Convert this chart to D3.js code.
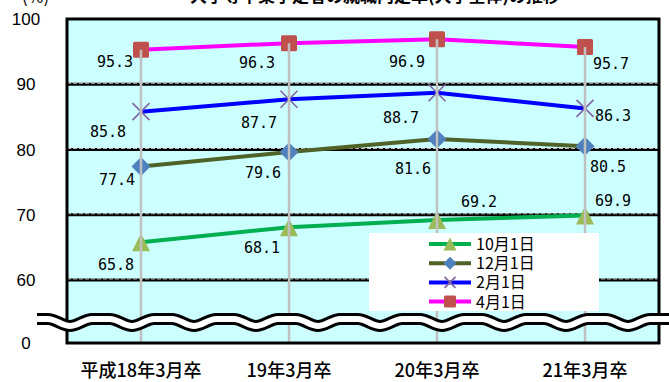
<!DOCTYPE html>
<html>
<head>
<meta charset="utf-8">
<script src="https://cdn.jsdelivr.net/npm/d3@7"></script>
<style>
  body { margin: 0; background: #fff; }
  svg { display: block; }
</style>
</head>
<body>
<svg id="chart" width="669" height="382"></svg>
<script>
// Data
const categories = ["平成18年3月卒", "19年3月卒", "20年3月卒", "21年3月卒"];
const seriesNames = ["10月1日", "12月1日", "2月1日", "4月1日"];
const octValues = [65.8, 68.1, 69.2, 69.9];
const decValues = [77.4, 79.6, 81.6, 80.5];
const febValues = [85.8, 87.7, 88.7, 86.3];
const aprValues = [95.3, 96.3, 96.9, 95.7];
const yTicks = [0, 60, 70, 80, 90, 100];

// label placement (dx, dy from point, anchor) - hand placed like the original
const labelPlacement = [
    [[-7, 28, "end"], [-9, 26, "end"], [24, -13, "start"], [10, -9, "start"]],
    [[-6, 19, "end"], [-8, 26, "end"], [-6, 35, "end"], [5, 26, "start"]],
    [[-15, 25, "end"], [-12, 29, "end"], [-18, 30, "end"], [10, 13, "start"]],
    [[-8, 17, "end"], [-14, 25, "end"], [-12, 28, "end"], [8, 22, "start"]]
];

const styles = [
    { line: "#00b050", marker: "#9bbb59", shape: "triangle" },
    { line: "#4f6228", marker: "#4f81bd", shape: "diamond" },
    { line: "#0000ff", marker: "#8064a2", shape: "x" },
    { line: "#ff00ff", marker: "#c0504d", shape: "square" }
];

const series = [octValues, decValues, febValues, aprValues].map((vals, i) => ({
    name: seriesNames[i],
    values: vals.map((v, j) => ({ cat: categories[j], value: v })),
    style: styles[i],
    labels: labelPlacement[i]
}));

const svg = d3.select("#chart");
const plot = { left: 67, right: 659, top: 19, bottom: 343 };

const x = d3.scaleBand().domain(categories).range([plot.left, plot.right]);
const cx = d => x(d) + x.bandwidth() / 2;
// broken axis: 0 at the bottom, then 60..100
const y = d3.scaleLinear().domain([0, 60, 100]).range([plot.bottom, 280, plot.top]);

// title + unit (cut off at top edge)
svg.append("text")
    .attr("x", 22).attr("y", 3)
    .style("font-family", "Noto Sans CJK JP").style("font-size", "17px")
    .text("(%)");
svg.append("text")
    .attr("x", 190).attr("y", 2)
    .style("font-family", "Noto Sans CJK JP").style("font-size", "17px").style("font-weight", "bold")
    .text("大学等卒業予定者の就職内定率(大学全体)の推移");

// plot background
svg.append("rect")
    .attr("x", plot.left).attr("y", plot.top)
    .attr("width", plot.right - plot.left).attr("height", plot.bottom - plot.top)
    .attr("fill", "#ccffff");

// gridlines
const grid = svg.append("g");
yTicks.filter(t => t > 0 && t < 100).forEach(t => {
    grid.append("line")
        .attr("x1", plot.left).attr("x2", plot.right)
        .attr("y1", y(t)).attr("y2", y(t))
        .attr("stroke", "#000").attr("stroke-width", 3);
    grid.append("line")
        .attr("x1", plot.left).attr("x2", plot.right)
        .attr("y1", y(t) - 1).attr("y2", y(t) - 1)
        .attr("stroke", "#bbb").attr("stroke-width", 1)
        .attr("stroke-dasharray", "4,2");
});

// y tick labels
svg.append("g").selectAll("text")
    .data(yTicks)
    .enter().append("text")
    .attr("x", 26)
    .attr("y", d => y(d) + 6)
    .attr("text-anchor", "middle")
    .style("font-family", "Liberation Sans, Arial").style("font-size", "17px")
    .text(d => d);

// series lines
const line = d3.line().x(d => cx(d.cat)).y(d => y(d.value));
svg.append("g").selectAll("path")
    .data(series)
    .enter().append("path")
    .attr("d", d => line(d.values))
    .attr("fill", "none")
    .attr("stroke", d => d.style.line)
    .attr("stroke-width", 4);

// marker drawing
function drawMarker(sel, shape, color, s) {
    if (shape === "square") {
        sel.append("rect").attr("x", -s / 2).attr("y", -s / 2).attr("width", s).attr("height", s)
            .attr("rx", 1.5).attr("fill", color);
    } else if (shape === "diamond") {
        sel.append("path").attr("d", `M0,${-s / 2}L${s / 2},0L0,${s / 2}L${-s / 2},0Z`).attr("fill", color);
    } else if (shape === "triangle") {
        sel.append("path").attr("d", `M0,${-s / 2}L${s / 2},${s / 2}L${-s / 2},${s / 2}Z`).attr("fill", color);
    } else {
        const h = s / 2;
        sel.append("path").attr("d", `M${-h},${-h}L${h},${h}M${-h},${h}L${h},${-h}`)
            .attr("stroke", color).attr("stroke-width", 1.6).attr("fill", "none");
    }
}

const markerSize = { square: 16, diamond: 19, triangle: 18, x: 17 };
series.forEach(s => {
    s.values.forEach(d => {
        const g = svg.append("g").attr("transform", `translate(${cx(d.cat)},${y(d.value)})`);
        drawMarker(g, s.style.shape, s.style.marker, markerSize[s.style.shape]);
    });
});

// drop lines from top series to bottom (drawn over the markers)
svg.append("g").selectAll("line")
    .data(aprValues.map((v, i) => ({ cat: categories[i], value: v })))
    .enter().append("line")
    .attr("x1", d => cx(d.cat)).attr("x2", d => cx(d.cat))
    .attr("y1", d => y(d.value)).attr("y2", plot.bottom)
    .attr("stroke", "#c0c0c0").attr("stroke-width", 2.5);

// data labels
series.forEach(s => {
    svg.append("g").selectAll("text")
        .data(s.values)
        .enter().append("text")
        .attr("x", (d, i) => cx(d.cat) + s.labels[i][0])
        .attr("y", (d, i) => y(d.value) + s.labels[i][1])
        .attr("text-anchor", (d, i) => s.labels[i][2])
        .style("font-family", "DejaVu Sans Mono").style("font-size", "15px")
        .text(d => d.value.toFixed(1));
});

// plot border
svg.append("rect")
    .attr("x", plot.left).attr("y", plot.top)
    .attr("width", plot.right - plot.left).attr("height", plot.bottom - plot.top)
    .attr("fill", "none").attr("stroke", "#000").attr("stroke-width", 3);

// axis break (wavy band), over the border
const period = 62;
const wavePts = [];
for (let px = 8; px <= 700; px += period) {
    wavePts.push([px, 326], [px + 22, 319], [px + 40, 319]);
}
const wave = d3.line().curve(d3.curveMonotoneX)(wavePts);
svg.append("clipPath").attr("id", "waveClip")
    .append("rect").attr("x", 37).attr("y", 290).attr("width", 640).attr("height", 60);
svg.append("path").attr("d", wave).attr("clip-path", "url(#waveClip)")
    .attr("fill", "none").attr("stroke", "#000").attr("stroke-width", 12);
svg.append("path").attr("d", wave).attr("clip-path", "url(#waveClip)")
    .attr("fill", "none").attr("stroke", "#fff").attr("stroke-width", 6);

// x axis labels
svg.append("g").selectAll("text")
    .data(categories)
    .enter().append("text")
    .attr("x", d => cx(d))
    .attr("y", 377)
    .attr("text-anchor", "middle")
    .style("font-family", "Noto Sans CJK JP").style("font-size", "18px").style("font-weight", "500")
    .text(d => d);

// legend
const legend = svg.append("g").attr("transform", "translate(369,233)");
legend.append("rect").attr("width", 230).attr("height", 78).attr("fill", "#fff");
series.forEach((s, i) => {
    const row = legend.append("g").attr("transform", `translate(0,${11 + i * 19.2})`);
    row.append("line").attr("x1", 60).attr("x2", 102)
        .attr("stroke", s.style.line).attr("stroke-width", 4);
    const m = row.append("g").attr("transform", "translate(81,0)");
    drawMarker(m, s.style.shape, s.style.marker, { square: 12, diamond: 13, triangle: 13, x: 11 }[s.style.shape]);
    row.append("text").attr("x", 107).attr("y", 6)
        .style("font-family", "Noto Sans CJK JP").style("font-size", "16px")
        .text(s.name);
});
</script>
</body>
</html>
